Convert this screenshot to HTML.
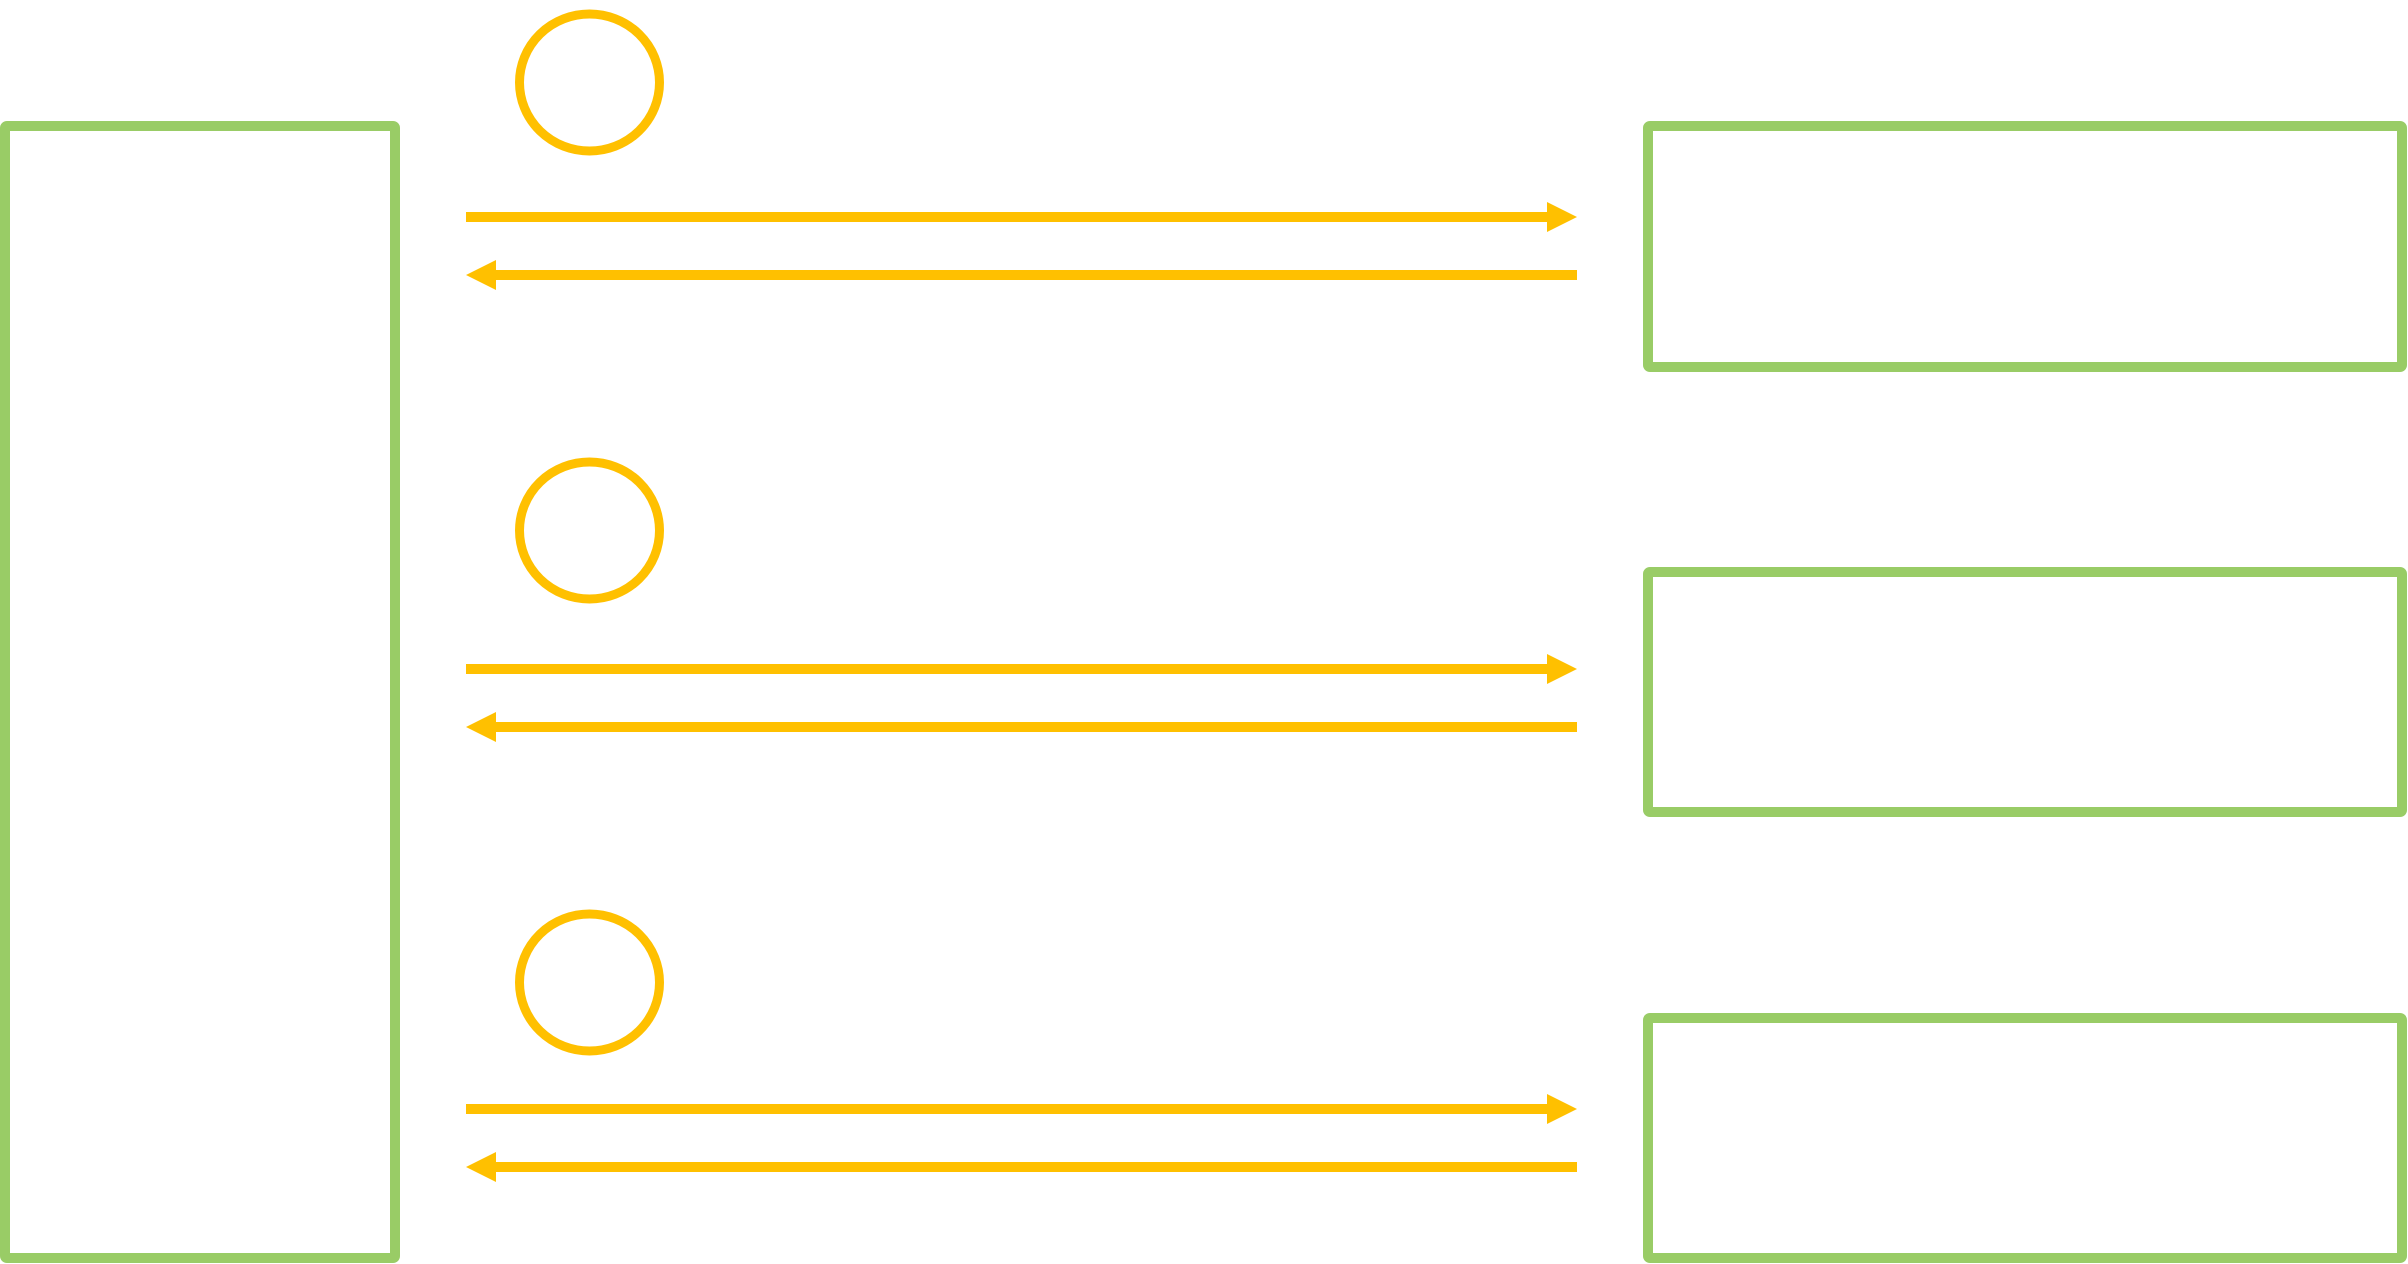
<!DOCTYPE html>
<html><head><meta charset="utf-8"><style>html,body{margin:0;padding:0;background:#fff}svg{display:block}</style></head>
<body>
<svg width="2408" height="1264" viewBox="0 0 2408 1264" xmlns="http://www.w3.org/2000/svg">
<g fill="none" stroke="#99cc66" stroke-width="10" stroke-linejoin="round">
<rect x="5" y="126" width="390" height="1132" rx="2"/>
<rect x="1648" y="126" width="754" height="241" rx="2"/>
<rect x="1648" y="572" width="754" height="240" rx="2"/>
<rect x="1648" y="1018" width="754" height="240" rx="2"/>
</g>
<g fill="none" stroke="#ffc000" stroke-width="9">
<ellipse cx="589.5" cy="82.5" rx="70" ry="68.5"/>
<ellipse cx="589.5" cy="530.5" rx="70" ry="68.5"/>
<ellipse cx="589.5" cy="982.5" rx="70" ry="68.5"/>
</g>
<g stroke="#ffc000" stroke-width="10">
<line x1="466" y1="217" x2="1550" y2="217"/>
<line x1="493" y1="275" x2="1577" y2="275"/>
<line x1="466" y1="669" x2="1550" y2="669"/>
<line x1="493" y1="727" x2="1577" y2="727"/>
<line x1="466" y1="1109" x2="1550" y2="1109"/>
<line x1="493" y1="1167" x2="1577" y2="1167"/>
</g>
<g fill="#ffc000">
<polygon points="1547,202 1577,217 1547,232"/>
<polygon points="496,260 466,275 496,290"/>
<polygon points="1547,654 1577,669 1547,684"/>
<polygon points="496,712 466,727 496,742"/>
<polygon points="1547,1094 1577,1109 1547,1124"/>
<polygon points="496,1152 466,1167 496,1182"/>
</g>
</svg>
</body></html>
